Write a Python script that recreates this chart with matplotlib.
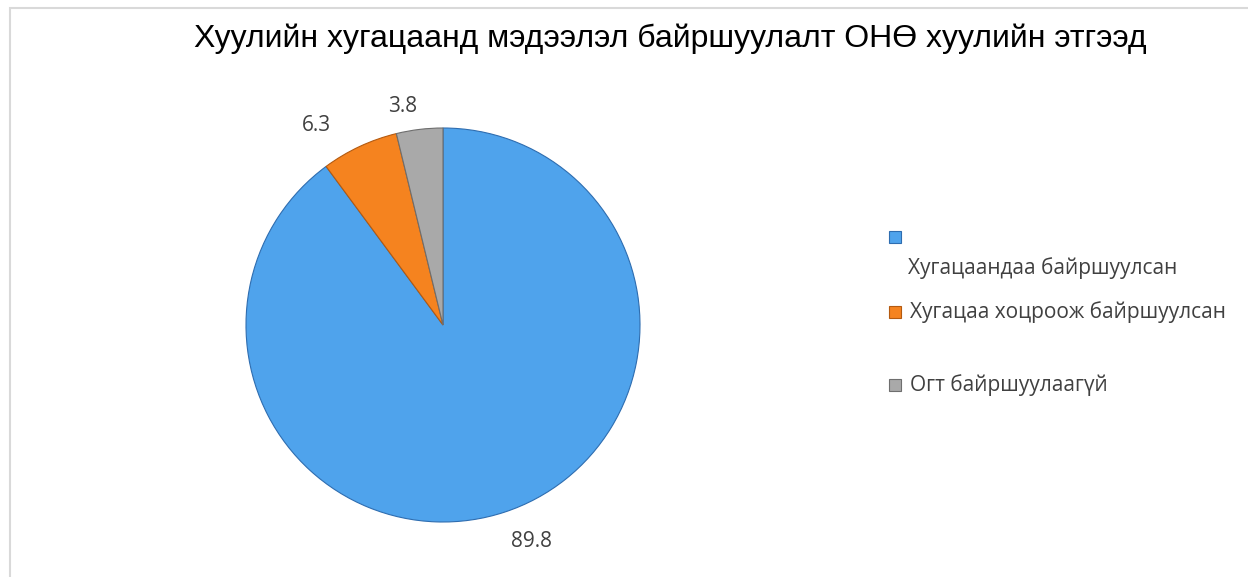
import matplotlib.pyplot as plt
from matplotlib.patches import Rectangle
import numpy as np

title = "Хуулийн хугацаанд мэдээлэл байршуулалт ОНӨ хуулийн этгээд"
labels = ["Хугацаандаа байршуулсан", "Хугацаа хоцроож байршуулсан", "Огт байршуулаагүй"]
values = [89.8, 6.3, 3.8]
colors = ["#4FA3EC", "#F5831F", "#A9A9A9"]
edges = ["#2E6DB0", "#B45A10", "#6E6E6E"]

fig = plt.figure(figsize=(12.48, 5.77), dpi=100)
W, H = 1248, 577

# chart frame
fig.patches.append(Rectangle((10 / W, -0.1), 1.2, 1 - 8 / H + 0.1, transform=fig.transFigure,
                             fill=False, edgecolor="#D9D9D9", linewidth=1.5))

fig.text(670 / W, 1 - 39 / H, title, ha="center", va="center",
         fontsize=23, family="Liberation Sans", color="black")

cx, cy, r = 443, 325, 197
ax = fig.add_axes([(cx - r) / W, (H - cy - r) / H, 2 * r / W, 2 * r / H])
wedges, _ = ax.pie(values, colors=colors, startangle=90, counterclock=False,
                   wedgeprops=dict(linewidth=0.8, edgecolor="#404040"))
for w, ec in zip(wedges, edges):
    w.set_edgecolor(ec)
ax.set_xlim(-1, 1)
ax.set_ylim(-1, 1)
ax.set_aspect("equal")
ax.axis("off")

# data labels
label_pos = [(0.447, -1.097), (-0.64, 1.015), (-0.203, 1.107)]
for v, (lx, ly) in zip(values, label_pos):
    ax.text(lx, ly, f"{v:.1f}", ha="center", va="center", fontsize=15,
            family="Open Sans", color="#404040")

# legend
marker_y = [237, 312, 385]
text_pos = [(908, 268), (910, 312), (910, 385)]
for col, ec, my, (tx, ty), lab in zip(colors, edges, marker_y, text_pos, labels):
    fig.patches.append(Rectangle((889 / W, 1 - (my + 6) / H), 12 / W, 12 / H,
                                 transform=fig.transFigure, facecolor=col,
                                 edgecolor=ec, linewidth=0.8))
    fig.text(tx / W, 1 - ty / H, lab, ha="left", va="center", fontsize=15,
             family="Open Sans", color="#404040")

fig.savefig("out.png", dpi=100)
